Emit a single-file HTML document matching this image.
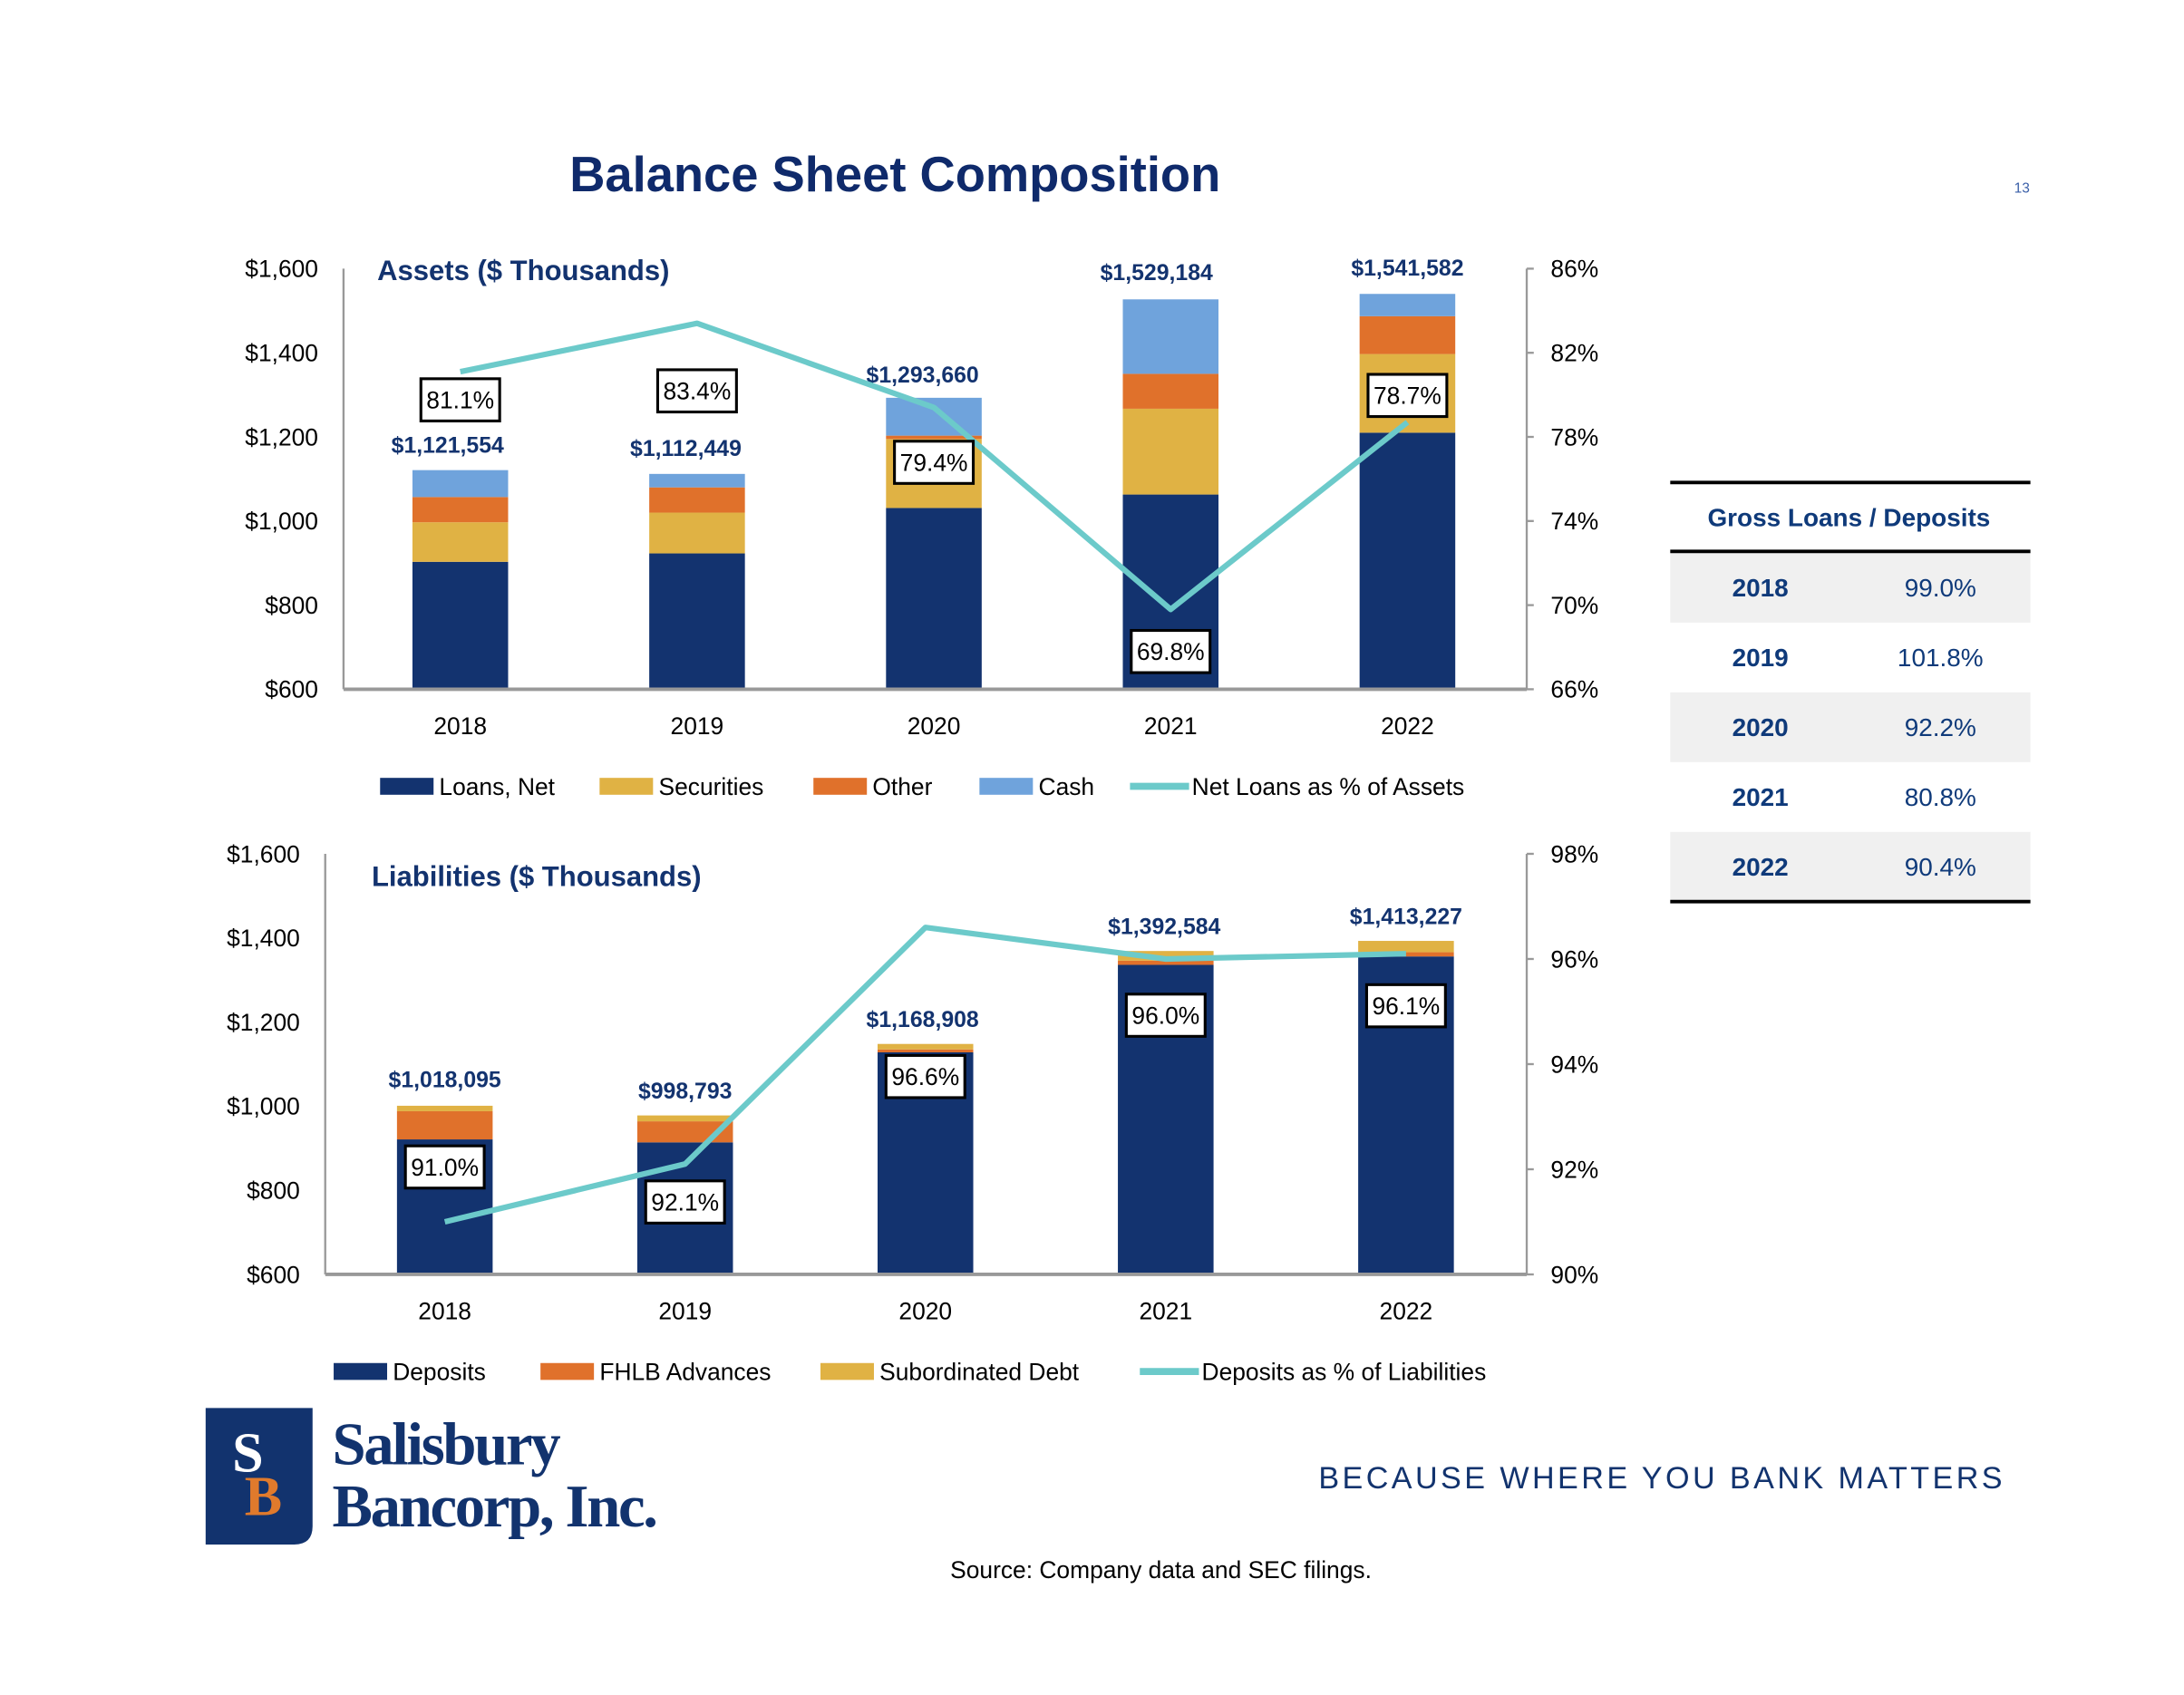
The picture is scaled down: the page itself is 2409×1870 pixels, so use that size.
<!DOCTYPE html>
<html><head><meta charset="utf-8"><style>
html,body{margin:0;padding:0;background:#fff;overflow:hidden;}
svg{display:block;font-family:"Liberation Sans",sans-serif;}
</style></head><body>
<svg id="root" width="2409" height="1870" viewBox="0 0 1552 1205" xmlns="http://www.w3.org/2000/svg">
<text x="636" y="136" text-anchor="middle" font-size="35" font-weight="bold" fill="#0f2a6b">Balance Sheet Composition</text>
<text x="1437" y="137" text-anchor="middle" font-size="10" fill="#3a5fa8">13</text>
<g id="top"></g>
<g id="bot"></g>
<g id="tbl"></g>
<g>
<path d="M146,1001 H222 V1085 Q222,1098 209,1098 H146 Z" fill="#12336e"/>
<text x="176" y="1046" text-anchor="middle" font-family="Liberation Serif,serif" font-weight="bold" font-size="40" fill="#fff">S</text>
<text x="187" y="1077" text-anchor="middle" font-family="Liberation Serif,serif" font-weight="bold" font-size="40" fill="#e07a2c">B</text>
<text x="236" y="1041" font-family="Liberation Serif,serif" font-weight="bold" font-size="43" fill="#12336e" letter-spacing="-1.5">Salisbury</text>
<text x="236" y="1085" font-family="Liberation Serif,serif" font-weight="bold" font-size="43" fill="#12336e" letter-spacing="-1.5">Bancorp, Inc.</text>
</g>
<text x="1181" y="1058" text-anchor="middle" font-size="22" fill="#12336e" letter-spacing="2" textLength="488">BECAUSE WHERE YOU BANK MATTERS</text>
<text x="825" y="1122" text-anchor="middle" font-size="17" fill="#000">Source: Company data and SEC filings.</text>
</svg>
<script>
const years=["2018","2019","2020","2021","2022"];
const loansNet=[903,923,1031,1063,1210];
const securities=[94,97,164,204,187];
const otherAssets=[60,60,8,83,90];
const cash=[64,32,90,177,53];
const netLoansPct=[81.1,83.4,79.4,69.8,78.7];
const assetTotals=["$1,121,554","$1,112,449","$1,293,660","$1,529,184","$1,541,582"];
const deposits=[921,914,1128,1336,1356];
const fhlb=[67,50,7,10,10];
const subDebt=[13,14,13,23,27];
const depositsPct=[91.0,92.1,96.6,96.0,96.1];
const liabTotals=["$1,018,095","$998,793","$1,168,908","$1,392,584","$1,413,227"];
const leftTicks=[600,800,1000,1200,1400,1600];
const topRightTicks=[66,70,74,78,82,86];
const botRightTicks=[90,92,94,96,98];
const tableYears=["2018","2019","2020","2021","2022"];
const tableVals=["99.0%","101.8%","92.2%","80.8%","90.4%"];

const NS="http://www.w3.org/2000/svg";
function mk(p,tag,at,txt){const e=document.createElementNS(NS,tag);for(const k in at)e.setAttribute(k,at[k]);if(txt!==undefined)e.textContent=txt;p.appendChild(e);return e;}
const NAVY="#13336f",GOLD="#e0b244",ORANGE="#e0712b",LBLUE="#6fa3dc",TEAL="#6ccaca";

function chart(g,cfg){
  const yL=v=>cfg.y0-(v-600)/1000*(cfg.y0-cfg.y1);
  const yR=v=>cfg.y0-(v-cfg.rmin)/(cfg.rmax-cfg.rmin)*(cfg.y0-cfg.y1);
  const xC=i=>cfg.x0+i*cfg.step;
  mk(g,"line",{x1:cfg.ax,y1:cfg.y1,x2:cfg.ax,y2:cfg.y0,stroke:"#999","stroke-width":1.5});
  mk(g,"line",{x1:1085,y1:cfg.y1,x2:1085,y2:cfg.y0,stroke:"#999","stroke-width":1.5});
  leftTicks.forEach(t=>{const e=mk(g,"text",{x:cfg.ax-18,y:yL(t)+6,"text-anchor":"end","font-size":17,fill:"#000"},"$"+t.toLocaleString("en-US"));
    
    });
  cfg.rticks.forEach(t=>{mk(g,"line",{x1:1085,y1:yR(t),x2:1090,y2:yR(t),stroke:"#999","stroke-width":1.5});
    const e=mk(g,"text",{x:1102,y:yR(t)+6,"font-size":17,fill:"#000"},t+"%");
    
    });
  years.forEach((yr,i)=>{
    let base=0;
    cfg.series.forEach((s,k)=>{const v=s[i];const top=base+v;const lo=Math.max(base,600);
      const r=mk(g,"rect",{x:xC(i)-34,y:yL(top),width:68,height:Math.max(0,yL(lo)-yL(top)),fill:cfg.colors[k]});
      
      
      base=top;});
    const t=mk(g,"text",{x:xC(i)+cfg.totDx[i],y:cfg.totY[i],"text-anchor":"middle","font-size":16,"font-weight":"bold",fill:"#13336f"},cfg.totals[i]);
    
    
    const yl=mk(g,"text",{x:xC(i),y:cfg.y0+32,"text-anchor":"middle","font-size":17,fill:"#000"},yr);
    
    
  });
  mk(g,"line",{x1:cfg.ax,y1:cfg.y0,x2:1085,y2:cfg.y0,stroke:"#999","stroke-width":2.5});
  const pts=cfg.pct.map((v,i)=>xC(i)+","+yR(v)).join(" ");
  const pl=mk(g,"polyline",{points:pts,fill:"none",stroke:TEAL,"stroke-width":4,"stroke-linejoin":"round"});
  
  
  cfg.pct.forEach((v,i)=>{const cy=yR(v)+cfg.boxDy[i];
    const b=mk(g,"g",{});
    
    
    mk(b,"rect",{x:xC(i)-28,y:cy-15,width:56,height:30,fill:"#fff",stroke:"#000","stroke-width":2});
    mk(b,"text",{x:xC(i),y:cy+6,"text-anchor":"middle","font-size":17,fill:"#000"},v.toFixed(1)+"%");});
  const tt=mk(g,"text",{x:cfg.titleX,y:cfg.titleY,"font-size":20,"font-weight":"bold",fill:"#13336f"},cfg.title);
  
  
  cfg.legend.forEach(L=>{const lg=mk(g,"g",{});
    
    
    if(L.line) mk(lg,"line",{x1:L.x,y1:cfg.legY-6,x2:L.x+42,y2:cfg.legY-6,stroke:TEAL,"stroke-width":5});
    else mk(lg,"rect",{x:L.x,y:cfg.legY-12,width:38,height:12,fill:L.c});
    mk(lg,"text",{x:L.x+(L.line?44:42),y:cfg.legY,"font-size":17,fill:"#000"},L.t);});
}
chart(document.getElementById("top"),{ax:244,y0:490,y1:191,x0:327,step:168.3,rmin:66,rmax:86,rticks:topRightTicks,
  series:[loansNet,securities,otherAssets,cash],colors:[NAVY,GOLD,ORANGE,LBLUE],names:["loans-net","securities","other","cash"],
  pct:netLoansPct,totals:assetTotals,totY:[322,324,272,199,196],totDx:[-9,-8,-8,-10,0],boxDy:[20,48,39,30,-19],
  title:"Assets ($ Thousands)",titleX:268,titleY:199,legY:565,
  legend:[{x:270,c:NAVY,t:"Loans, Net"},{x:426,c:GOLD,t:"Securities"},{x:578,c:ORANGE,t:"Other"},{x:696,c:LBLUE,t:"Cash"},{x:803,line:true,t:"Net Loans as % of Assets"}]});
chart(document.getElementById("bot"),{ax:231,y0:906,y1:607,x0:316,step:170.8,rmin:90,rmax:98,rticks:botRightTicks,
  series:[deposits,fhlb,subDebt],colors:[NAVY,ORANGE,GOLD],names:["deposits","fhlb-advances","subordinated-debt"],
  pct:depositsPct,totals:liabTotals,totY:[773,781,730,664,657],totDx:[0,0,-2,-1,0],boxDy:[-39,27,106,40,37],
  title:"Liabilities ($ Thousands)",titleX:264,titleY:630,legY:981,
  legend:[{x:237,c:NAVY,t:"Deposits"},{x:384,c:ORANGE,t:"FHLB Advances"},{x:583,c:GOLD,t:"Subordinated Debt"},{x:810,line:true,t:"Deposits as % of Liabilities"}]});
(function(){const g=document.getElementById("tbl");
  mk(g,"line",{x1:1187,y1:343,x2:1443,y2:343,stroke:"#000","stroke-width":2.5});
  const h=mk(g,"text",{x:1314,y:374,"text-anchor":"middle","font-size":18,"font-weight":"bold",fill:"#0f3a7a"},"Gross Loans / Deposits");
  
  
  tableYears.forEach((yr,i)=>{const y=393+i*49.6;
    if(i%2===0) mk(g,"rect",{x:1187,y:y,width:256,height:49.6,fill:"#f0f0f0"});
    const a=mk(g,"text",{x:1251,y:y+31,"text-anchor":"middle","font-size":18,"font-weight":"bold",fill:"#0f3a7a"},yr);
    
    
    const b=mk(g,"text",{x:1379,y:y+31,"text-anchor":"middle","font-size":18,fill:"#0f3a7a"},tableVals[i]);
    
    });
  mk(g,"line",{x1:1187,y1:392,x2:1443,y2:392,stroke:"#000","stroke-width":2.5});
  mk(g,"line",{x1:1187,y1:641,x2:1443,y2:641,stroke:"#000","stroke-width":2.5});
})();
</script>
</body></html>
